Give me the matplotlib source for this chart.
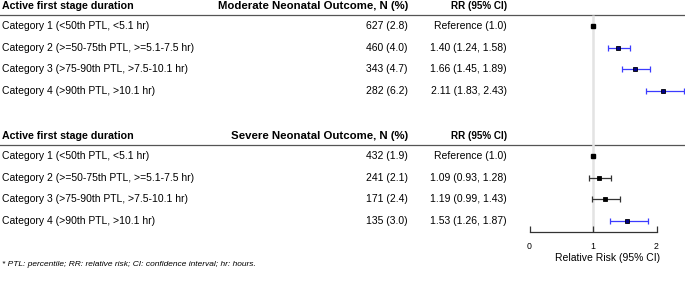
import matplotlib
matplotlib.use("Agg")
import matplotlib.pyplot as plt

plt.rcParams['font.family'] = ['Liberation Sans', 'DejaVu Sans']

categories = ["Category 1 (<50th PTL, <5.1 hr)",
              "Category 2 (>=50-75th PTL, >=5.1-7.5 hr)",
              "Category 3 (>75-90th PTL, >7.5-10.1 hr)",
              "Category 4 (>90th PTL, >10.1 hr)"]

mod_n = [627, 460, 343, 282]
mod_pct = [2.8, 4.0, 4.7, 6.2]
mod_rr = [1.0, 1.40, 1.66, 2.11]
mod_lo = [None, 1.24, 1.45, 1.83]
mod_hi = [None, 1.58, 1.89, 2.43]

sev_n = [432, 241, 171, 135]
sev_pct = [1.9, 2.1, 2.4, 3.0]
sev_rr = [1.0, 1.09, 1.19, 1.53]
sev_lo = [None, 0.93, 0.99, 1.26]
sev_hi = [None, 1.28, 1.43, 1.87]

W, H = 685, 285
fig = plt.figure(figsize=(W / 100, H / 100), dpi=100)

# table part, pixel coords
tab = fig.add_axes([0, 0, 1, 1])
tab.set_xlim(0, W)
tab.set_ylim(H, 0)
tab.axis('off')

fs = 7.5
row0 = [26, 156]
step = 21.7
blocks = [("Moderate Neonatal Outcome, N (%)", mod_n, mod_pct, mod_rr, mod_lo, mod_hi),
          ("Severe Neonatal Outcome, N (%)", sev_n, sev_pct, sev_rr, sev_lo, sev_hi)]

# forest part
x0, unit, y_axis = 529.5, 63.5, 232
fp = fig.add_axes([x0 / W, (H - y_axis) / H, (W - x0) / W, y_axis / H])
fp.set_xlim(0, (W - x0) / unit)
fp.set_ylim(y_axis, 0)
fp.patch.set_alpha(0)
for s in ['top', 'left', 'right']:
    fp.spines[s].set_visible(False)
fp.spines['bottom'].set_bounds(0, 2)
fp.spines['bottom'].set_color('#333333')
fp.spines['bottom'].set_linewidth(0.9)
fp.set_yticks([])
fp.set_xticks([0, 1, 2])
fp.tick_params(axis='x', direction='in', length=4, width=0.9, color='#333333',
               labelsize=6.3, pad=7.5)
fp.set_xlabel("Relative Risk (95% CI)", fontsize=7.5, labelpad=1)
fp.vlines(1, 15, y_axis, color='#e3e3e3', lw=1.8, zorder=0)

for b, (title, n, pct, rr, lo, hi) in enumerate(blocks):
    y0 = row0[b]
    yh = y0 - 19.8
    tab.text(2, yh, "Active first stage duration", fontsize=7.7, fontweight='bold', va='center')
    tab.text(408, yh, title, fontsize=8.2, fontweight='bold', va='center', ha='right')
    tab.text(507, yh, "RR (95% CI)", fontsize=7.1, fontweight='bold', va='center', ha='right')
    tab.plot([0, W], [y0 - 11.5, y0 - 11.5], color='#555555', lw=0.9)
    for i in range(4):
        y = y0 + step * i
        tab.text(2, y, categories[i], fontsize=fs, va='center')
        tab.text(408, y, f"{n[i]} ({pct[i]:.1f})", fontsize=fs, va='center', ha='right')
        if lo[i] is None:
            tab.text(507, y, f"Reference ({rr[i]:.1f})", fontsize=fs, va='center', ha='right')
            fp.plot(rr[i], y, 's', ms=3.1, mfc='black', mec='black', zorder=3)
            continue
        sig = lo[i] > 1
        ecol = '#3b3bff' if sig else '#333333'
        fcol = '#00008b' if sig else 'black'
        fp.errorbar(rr[i], y, xerr=[[rr[i] - lo[i]], [hi[i] - rr[i]]], fmt='none',
                    ecolor=ecol, elinewidth=0.9, capsize=2.4, capthick=0.9, zorder=2)
        fp.plot(rr[i], y, 's', ms=3.1, mfc=fcol, mec='black', mew=0.6, zorder=3)
        tab.text(507, y, f"{rr[i]:.2f} ({lo[i]:.2f}, {hi[i]:.2f})", fontsize=fs,
                 va='center', ha='right')

tab.text(2, 265, "* PTL: percentile; RR: relative risk; CI: confidence interval; hr: hours.",
         fontsize=6.0, style='italic', va='center')

fig.savefig("out.png", dpi=100)
